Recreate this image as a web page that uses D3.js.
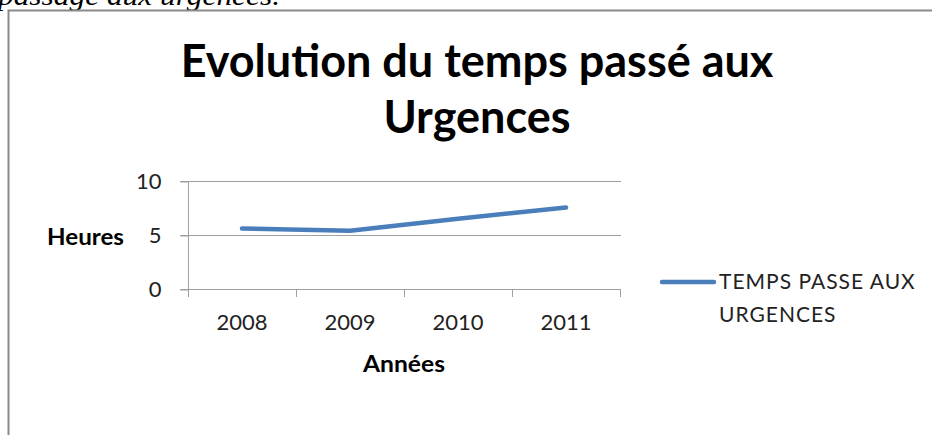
<!DOCTYPE html>
<html><head><meta charset="utf-8">
<script src="https://cdn.jsdelivr.net/npm/d3@7"></script>
<style>
html,body{margin:0;padding:0;background:#fff;overflow:hidden;}
svg{display:block;}
</style></head>
<body>
<svg id="c" width="932" height="435"></svg>
<script>
const years = ["2008", "2009", "2010", "2011"];
const hours = [5.6, 5.4, 6.5, 7.55];
const yTicks = [0, 5, 10];
const seriesName = ["TEMPS PASSE AUX", "URGENCES"];
const titleLines = ["Evolution du temps passé aux", "Urgences"];

(function () {
const svg = d3.select("#c");
const font = "Lato, 'Open Sans', sans-serif";

// text above the frame (cut off in the reference)
svg.append("text").attr("x", -2).attr("y", 5)
  .attr("font-family", "'Liberation Serif', serif").attr("font-style", "italic")
  .attr("font-size", 27).attr("fill", "#000")
  .attr("textLength", 282).attr("lengthAdjust", "spacingAndGlyphs")
  .text("passage aux urgences.");

// chart frame
svg.append("path").attr("d", "M8.5,440 V10.5 H940")
  .attr("fill", "none").attr("stroke", "#8a8a8a").attr("stroke-width", 2);

// title
const tl = [77, 133];
titleLines.forEach((t, i) => {
  svg.append("text").attr("x", 477).attr("y", tl[i]).attr("text-anchor", "middle")
    .attr("font-family", font).attr("font-weight", "bold").attr("font-size", 45)
    .attr("fill", "#000").text(t);
});

const pLeft = 188, pRight = 620, pTop = 181, pBottom = 289;
const x = d3.scaleBand().domain(years).range([pLeft, pRight]);
const y = d3.scaleLinear().domain([0, 10]).range([pBottom, pTop]);

// gridlines
svg.append("g").selectAll("line").data(yTicks).join("line")
  .attr("x1", pLeft - 8).attr("x2", pRight + 1)
  .attr("y1", d => Math.round(y(d)) + 0.5).attr("y2", d => Math.round(y(d)) + 0.5)
  .attr("stroke", "#a0a0a0").attr("stroke-width", 1);

// y axis
const ya = svg.append("g").attr("transform", `translate(${pLeft + 0.5},0.5)`)
  .call(d3.axisLeft(y).tickValues(yTicks).tickSize(8).tickPadding(19));
ya.select(".domain").attr("stroke", "#a0a0a0").attr("d", `M0,${pTop}V${pBottom}`);
ya.selectAll(".tick line").attr("stroke", "#a0a0a0");
ya.selectAll("text").attr("font-family", font).attr("font-size", 22).attr("fill", "#222");

// x axis
const xa = svg.append("g").attr("transform", `translate(0,${pBottom + 0.5})`)
  .call(d3.axisBottom(x).tickSize(0).tickPadding(24));
xa.select(".domain").remove();
xa.selectAll("text").attr("font-family", font).attr("font-size", 22).attr("fill", "#222")
  .attr("dy", null).attr("y", 40);
const edges = years.map(d => x(d)).concat([x(years[years.length - 1]) + x.bandwidth()]);
svg.append("g").selectAll("line").data(edges).join("line")
  .attr("x1", d => Math.round(d) + 0.5).attr("x2", d => Math.round(d) + 0.5)
  .attr("y1", pBottom).attr("y2", pBottom + 8)
  .attr("stroke", "#a0a0a0");

// axis titles
svg.append("text").attr("x", 404).attr("y", 372).attr("text-anchor", "middle")
  .attr("font-family", font).attr("font-weight", "bold").attr("font-size", 23)
  .attr("textLength", 82).attr("lengthAdjust", "spacingAndGlyphs").text("Années");
svg.append("text").attr("x", 47).attr("y", 245)
  .attr("font-family", font).attr("font-weight", "bold").attr("font-size", 23)
  .attr("textLength", 77).attr("lengthAdjust", "spacingAndGlyphs").text("Heures");

// line
const line = d3.line().x((d, i) => x(years[i]) + x.bandwidth() / 2).y(d => y(d));
svg.append("path").datum(hours).attr("d", line)
  .attr("fill", "none").attr("stroke", "#4a7ebb").attr("stroke-width", 4.5)
  .attr("stroke-linecap", "round").attr("stroke-linejoin", "round");

// legend
svg.append("line").attr("x1", 662).attr("x2", 714).attr("y1", 282).attr("y2", 282)
  .attr("stroke", "#4a7ebb").attr("stroke-width", 4.5).attr("stroke-linecap", "round");
seriesName.forEach((t, i) => {
  svg.append("text").attr("x", 719).attr("y", 289 + i * 33)
    .attr("font-family", font).attr("font-size", 21).attr("fill", "#222")
    .attr("letter-spacing", 1).text(t);
});
})();
</script>
</body></html>
